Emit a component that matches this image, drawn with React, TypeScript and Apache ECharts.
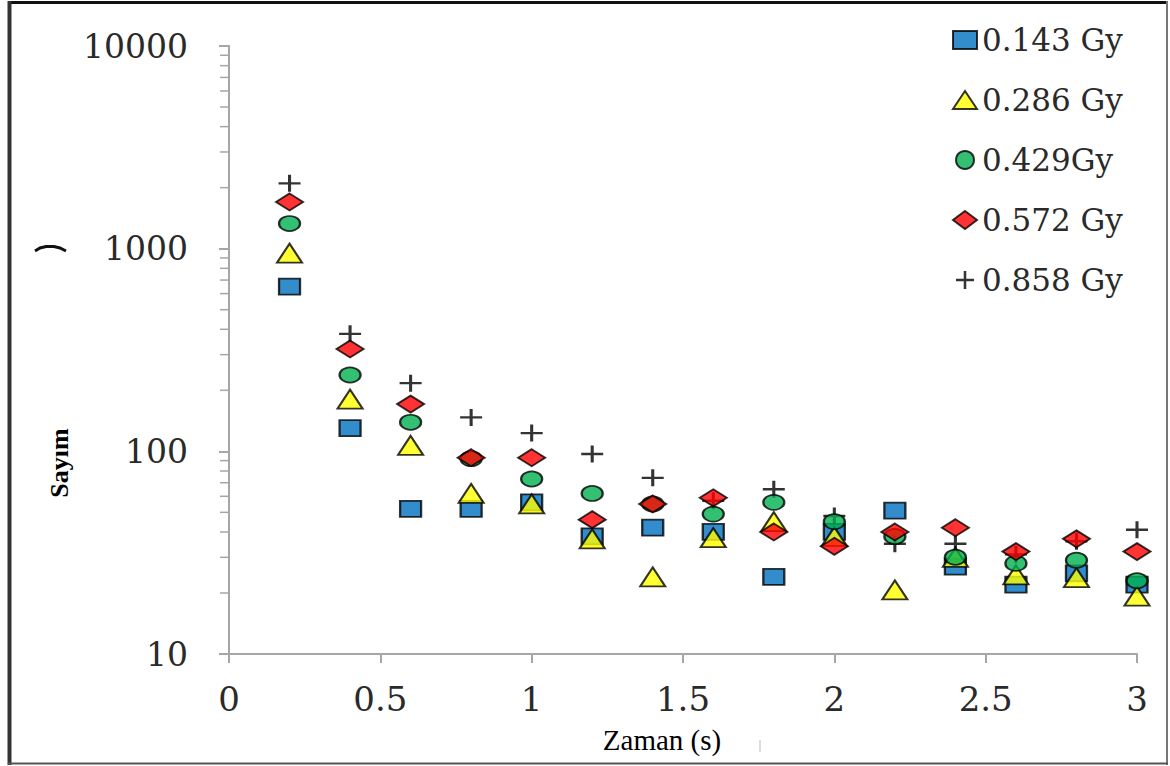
import React, { useEffect, useRef } from "react";
import * as echarts from "echarts";

const times = [0.2, 0.4, 0.6, 0.8, 1.0, 1.2, 1.4, 1.6, 1.8, 2.0, 2.2, 2.4, 2.6, 2.8, 3.0];
const seriesNames = ["0.143 Gy", "0.286 Gy", "0.429Gy", "0.572 Gy", "0.858 Gy"];
const dose143 = [650, 130, 52, 52, 56, 38, 42, 40, 24, 40, 51, 27, 22, 25, 22];
const dose286 = [950, 181, 107, 62, 55, 37, 24, 37.5, 45, 38, 20.7, 30, 24.6, 23.8, 19.3];
const dose429 = [1330, 238, 139, 92, 73, 62, 55, 49, 56, 45, 38, 30, 28, 29, 23];
const dose572 = [1700, 320, 171, 93, 93, 46, 55, 59, 40, 34, 40, 42, 32, 37, 32];
const dose858 = [2100, 380, 217, 147, 123, 97, 74, 57, 65, 48, 35, 35, 31, 36, 41];
const xTicks = [0, 0.5, 1, 1.5, 2, 2.5, 3];
const yMinorTicks = [20, 30, 40, 50, 60, 70, 80, 90, 200, 300, 400, 500, 600, 700, 800, 900, 2000, 3000, 4000, 5000, 6000, 7000, 8000, 9000];

const plusPath =
  "path://M8.6,0 H11.4 V8.6 H20 V11.4 H11.4 V20 H8.6 V11.4 H0 V8.6 H8.6 Z";

export default function App() {
  const ref = useRef<HTMLDivElement>(null);
  useEffect(() => {
    if (!ref.current) return;
    const chart = echarts.init(ref.current, null, { renderer: "svg" });
    const pair = (vals: number[]) => times.map((t, i) => [t, vals[i]]);
    const border = { borderColor: "#000", borderWidth: 2 };
    const option: any = {
      animation: false,
      backgroundColor: "#fff",
      grid: { left: 229, right: 33, top: 46, bottom: 112 },
      legend: {
        orient: "vertical",
        left: 947,
        top: 15,
        itemGap: 20,
        itemWidth: 24,
        itemHeight: 18,
        data: seriesNames,
        textStyle: {
          fontFamily: "DejaVu Serif",
          fontSize: 31,
          color: "#2a2a2a",
          lineHeight: 40,
          padding: [0, 0, 0, 0],
        },
      },
      xAxis: {
        type: "value",
        min: xTicks[0],
        max: xTicks[xTicks.length - 1],
        interval: 0.5,
        splitLine: { show: false },
        axisLine: { show: true, onZero: false, lineStyle: { color: "#a6a6a6", width: 2 } },
        axisTick: { show: true, length: 9, lineStyle: { color: "#a6a6a6", width: 2 } },
        axisLabel: {
          fontFamily: "DejaVu Serif",
          fontSize: 34,
          color: "#2a2a2a",
          margin: 28,
          formatter: (v: number) => String(v),
        },
      },
      yAxis: {
        type: "log",
        logBase: 10,
        min: 10,
        max: 10000,
        splitLine: { show: false },
        axisLine: { show: true, lineStyle: { color: "#a6a6a6", width: 2 } },
        axisTick: { show: true, length: 10, lineStyle: { color: "#a6a6a6", width: 2 } },
        axisLabel: {
          fontFamily: "DejaVu Serif",
          fontSize: 33,
          color: "#2a2a2a",
          margin: 41,
          formatter: (v: number) => String(Math.round(v)),
        },
      },
      series: [
        {
          type: "custom",
          name: "minor",
          silent: true,
          clip: false,
          z: 1,
          renderItem: (params: any, api: any) => {
            const p = api.coord([api.value(0), api.value(1)]);
            return {
              type: "line",
              shape: { x1: p[0] - 9, y1: p[1], x2: p[0], y2: p[1] },
              style: { stroke: "#a6a6a6", lineWidth: 1.5 },
            };
          },
          data: yMinorTicks.map((v) => [0, v]),
        },
        {
          type: "scatter",
          name: seriesNames[4],
          symbol: plusPath,
          symbolSize: [22, 17],
          z: 2,
          itemStyle: { color: "#000" },
          data: pair(dose858),
        },
        {
          type: "scatter",
          name: seriesNames[0],
          symbol: "rect",
          symbolSize: [21, 16],
          z: 3,
          itemStyle: { color: "#0070C0", ...border },
          data: pair(dose143),
        },
        {
          type: "scatter",
          name: seriesNames[1],
          symbol: "triangle",
          symbolSize: [25, 19],
          z: 3,
          itemStyle: { color: "#FFFF00", ...border },
          data: pair(dose286),
        },
        {
          type: "scatter",
          name: seriesNames[2],
          symbol: "circle",
          symbolSize: [21, 15],
          z: 3,
          itemStyle: { color: "#00B050", ...border },
          data: pair(dose429),
        },
        {
          type: "scatter",
          name: seriesNames[3],
          symbol: "diamond",
          symbolSize: [27, 17],
          z: 3,
          itemStyle: { color: "#FF0000", ...border },
          data: pair(dose572),
        },
      ],
      graphic: [
        {
          type: "text",
          x: 59,
          y: 463,
          rotation: Math.PI / 2,
          style: {
            text: "Sayım",
            fontFamily: "Liberation Serif",
            fontWeight: "bold",
            fontSize: 26,
            fill: "#000",
            align: "center",
            verticalAlign: "middle",
          },
        },
        {
          type: "text",
          x: 662,
          y: 740,
          style: {
            text: "Zaman (s)",
            fontFamily: "Liberation Serif",
            fontSize: 29,
            fill: "#000",
            align: "center",
            verticalAlign: "middle",
          },
        },
        {
          type: "polyline",
          shape: { points: [[35, 251], [40, 248], [46, 246.5], [54, 246.5], [60, 248], [66, 251]] },
          style: { stroke: "#111", lineWidth: 3, fill: "none" },
        },
        {
          type: "line",
          shape: { x1: 760, y1: 740, x2: 760, y2: 752 },
          style: { stroke: "#bbb", lineWidth: 1 },
        },
        {
          type: "line",
          shape: { x1: 8, y1: 2.5, x2: 1168, y2: 2.5 },
          style: { stroke: "#111", lineWidth: 3 },
        },
        {
          type: "line",
          shape: { x1: 9.5, y1: 1, x2: 9.5, y2: 765 },
          style: { stroke: "#333", lineWidth: 4 },
        },
        {
          type: "line",
          shape: { x1: 1167, y1: 1, x2: 1167, y2: 765 },
          style: { stroke: "#777", lineWidth: 2 },
        },
        {
          type: "line",
          shape: { x1: 8, y1: 763.5, x2: 1168, y2: 763.5 },
          style: { stroke: "#555", lineWidth: 2 },
        },
      ],
    };
    chart.setOption(option);
    return () => chart.dispose();
  }, []);
  return (
    <div
      ref={ref}
      style={{ position: "absolute", left: 0, top: 0, width: 1170, height: 766 }}
    />
  );
}
